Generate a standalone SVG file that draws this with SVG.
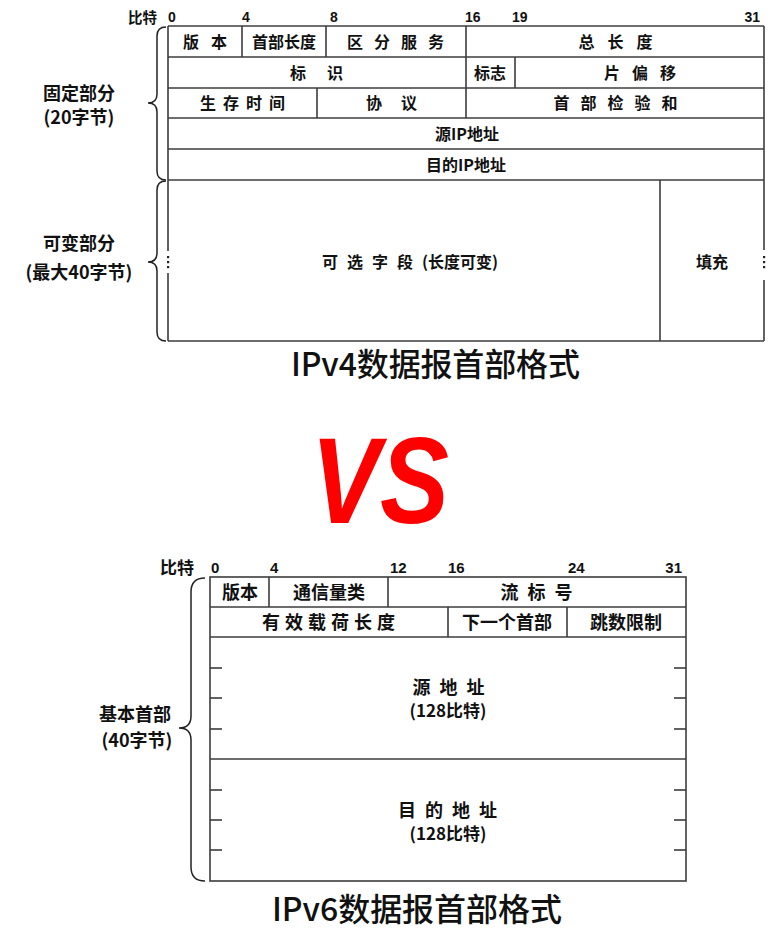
<svg xmlns="http://www.w3.org/2000/svg" width="779" height="952" viewBox="0 0 779 952">
<style>
.ln{stroke:#3c3c3c;stroke-width:1.6;fill:none}
.br{stroke:#222;stroke-width:1.5;fill:none}
.c{font-family:"Noto Sans CJK SC","Noto Sans CJK JP",sans-serif;font-weight:bold;font-size:16px;fill:#111;text-anchor:middle}
.c6{font-family:"Noto Sans CJK SC","Noto Sans CJK JP",sans-serif;font-weight:bold;font-size:18px;fill:#111;text-anchor:middle}
.lb{font-family:"Noto Sans CJK SC","Noto Sans CJK JP",sans-serif;font-weight:bold;font-size:18px;fill:#111;text-anchor:middle}
.n{font-family:"Liberation Sans",Arial,sans-serif;font-weight:bold;font-size:14px;fill:#111}
.n6{font-family:"Liberation Sans",Arial,sans-serif;font-weight:bold;font-size:15px;fill:#111}
.t{font-family:"Noto Sans CJK SC","Noto Sans CJK JP",sans-serif;font-weight:500;font-size:32px;fill:#111}
.dot{fill:#222}
</style>
<rect width="779" height="952" fill="#fff"/>

<!-- IPv4 grid -->
<g id="ipv4-grid">
<line class="ln" x1="168" y1="26" x2="764" y2="26"/>
<line class="ln" x1="168" y1="341" x2="764" y2="341"/>
<line class="ln" x1="168" y1="26" x2="168" y2="251"/>
<line class="ln" x1="168" y1="273" x2="168" y2="341"/>
<line class="ln" x1="764" y1="26" x2="764" y2="250"/>
<line class="ln" x1="764" y1="280" x2="764" y2="341"/>
<line class="ln" x1="168" y1="57" x2="764" y2="57"/>
<line class="ln" x1="168" y1="88" x2="764" y2="88"/>
<line class="ln" x1="168" y1="118" x2="764" y2="118"/>
<line class="ln" x1="168" y1="149" x2="764" y2="149"/>
<line class="ln" x1="168" y1="180" x2="764" y2="180"/>
<line class="ln" x1="242" y1="26" x2="242" y2="57"/>
<line class="ln" x1="326" y1="26" x2="326" y2="57"/>
<line class="ln" x1="466" y1="26" x2="466" y2="118"/>
<line class="ln" x1="515" y1="57" x2="515" y2="88"/>
<line class="ln" x1="317" y1="88" x2="317" y2="118"/>
<line class="ln" x1="660" y1="180" x2="660" y2="341"/>
<rect class="dot" x="167" y="256" width="2.2" height="2.2"/>
<rect class="dot" x="167" y="261" width="2.2" height="2.2"/>
<rect class="dot" x="167" y="266" width="2.2" height="2.2"/>
<rect class="dot" x="763" y="256" width="2.2" height="2.2"/>
<rect class="dot" x="763" y="261" width="2.2" height="2.2"/>
<rect class="dot" x="763" y="266" width="2.2" height="2.2"/>
</g>

<g id="ipv4-bits">
<text class="n" x="128" y="23" style="font-family:'Noto Sans CJK SC',sans-serif;font-size:14.5px">比特</text>
<text class="n" x="168" y="22">0</text>
<text class="n" x="242" y="22">4</text>
<text class="n" x="330" y="22">8</text>
<text class="n" x="465" y="22">16</text>
<text class="n" x="512" y="22">19</text>
<text class="n" x="760" y="22" text-anchor="end">31</text>
</g>

<g id="v4-version"><text class="c" x="211" y="48" letter-spacing="12">版本</text></g>
<g id="v4-ihl"><text class="c" x="284" y="48">首部长度</text></g>
<g id="v4-ds"><text class="c" x="401" y="48" letter-spacing="11">区分服务</text></g>
<g id="v4-totlen"><text class="c" x="622" y="48" letter-spacing="13">总长度</text></g>
<g id="v4-id"><text class="c" x="327" y="79" letter-spacing="21">标识</text></g>
<g id="v4-flags"><text class="c" x="490" y="79">标志</text></g>
<g id="v4-frag"><text class="c" x="646" y="79" letter-spacing="12">片偏移</text></g>
<g id="v4-ttl"><text class="c" x="246" y="109" letter-spacing="7">生存时间</text></g>
<g id="v4-proto"><text class="c" x="401" y="109" letter-spacing="19">协议</text></g>
<g id="v4-csum"><text class="c" x="621" y="109" letter-spacing="11">首部检验和</text></g>
<g id="v4-src"><text class="c" x="467" y="140">源IP地址</text></g>
<g id="v4-dst"><text class="c" x="466" y="171">目的IP地址</text></g>
<g id="v4-opt"><text class="c" x="410" y="268"><tspan letter-spacing="9">可选字段</tspan><tspan>(长度可变)</tspan></text></g>
<g id="v4-pad"><text class="c" x="712" y="268">填充</text></g>

<g id="v4-fixed-label">
<text class="lb" x="79" y="100">固定部分</text>
<text class="lb" x="79" y="124">(20字节)</text>
</g>
<g id="v4-var-label">
<text class="lb" x="79" y="250">可变部分</text>
<text class="lb" x="79" y="279">(最大40字节)</text>
</g>

<g id="connectors">
<path class="br" d="M166,27 Q157,27 157,36 L157,94 Q157,103 148,103 Q157,103 157,112 L157,171 Q157,180 166,180"/>
<path class="br" d="M166,181 Q157,181 157,190 L157,253 Q157,262 148,262 Q157,262 157,271 L157,332 Q157,341 166,341"/>
<path class="br" d="M205,578 Q191,578 191,592 L191,716 Q191,728 179,728 Q191,728 191,740 L191,867 Q191,881 205,881"/>
</g>

<g id="v4-title"><text class="t" x="291" y="376" textLength="289" lengthAdjust="spacing">IPv4数据报首部格式</text></g>

<g id="vs">
<text x="380" y="523" text-anchor="middle" textLength="138" lengthAdjust="spacingAndGlyphs" style="font-family:'Liberation Sans',Arial,sans-serif;font-weight:bold;font-style:italic;font-size:123px;fill:#ff0000">VS</text>
</g>

<!-- IPv6 grid -->
<g id="ipv6-grid">
<rect class="ln" x="210" y="577" width="476" height="304"/>
<line class="ln" x1="210" y1="607" x2="686" y2="607"/>
<line class="ln" x1="210" y1="637" x2="686" y2="637"/>
<line class="ln" x1="210" y1="759" x2="686" y2="759"/>
<line class="ln" x1="269" y1="577" x2="269" y2="607"/>
<line class="ln" x1="388" y1="577" x2="388" y2="607"/>
<line class="ln" x1="448" y1="607" x2="448" y2="637"/>
<line class="ln" x1="567" y1="607" x2="567" y2="637"/>
<line class="ln" x1="210" y1="668" x2="222" y2="668"/>
<line class="ln" x1="210" y1="698" x2="222" y2="698"/>
<line class="ln" x1="210" y1="729" x2="222" y2="729"/>
<line class="ln" x1="210" y1="790" x2="222" y2="790"/>
<line class="ln" x1="210" y1="820" x2="222" y2="820"/>
<line class="ln" x1="210" y1="850" x2="222" y2="850"/>
<line class="ln" x1="674" y1="668" x2="686" y2="668"/>
<line class="ln" x1="674" y1="698" x2="686" y2="698"/>
<line class="ln" x1="674" y1="729" x2="686" y2="729"/>
<line class="ln" x1="674" y1="790" x2="686" y2="790"/>
<line class="ln" x1="674" y1="820" x2="686" y2="820"/>
<line class="ln" x1="674" y1="850" x2="686" y2="850"/>
</g>

<g id="ipv6-bits">
<text class="n6" x="160" y="574" style="font-family:'Noto Sans CJK SC',sans-serif;font-size:17px">比特</text>
<text class="n6" x="211" y="573">0</text>
<text class="n6" x="270" y="573">4</text>
<text class="n6" x="390" y="573">12</text>
<text class="n6" x="448" y="573">16</text>
<text class="n6" x="568" y="573">24</text>
<text class="n6" x="682" y="573" text-anchor="end">31</text>
</g>

<g id="v6-version"><text class="c6" x="240" y="599">版本</text></g>
<g id="v6-tc"><text class="c6" x="329" y="599">通信量类</text></g>
<g id="v6-flow"><text class="c6" x="541" y="599" letter-spacing="9">流标号</text></g>
<g id="v6-plen"><text class="c6" x="331" y="629" letter-spacing="5">有效载荷长度</text></g>
<g id="v6-next"><text class="c6" x="507" y="629">下一个首部</text></g>
<g id="v6-hop"><text class="c6" x="626" y="629">跳数限制</text></g>
<g id="v6-src">
<text class="c6" x="453" y="694" letter-spacing="9">源地址</text>
<text class="c6" x="448" y="717" style="font-size:17px">(128比特)</text>
</g>
<g id="v6-dst">
<text class="c6" x="452" y="817" letter-spacing="9">目的地址</text>
<text class="c6" x="448" y="840" style="font-size:17px">(128比特)</text>
</g>

<g id="v6-label">
<text class="lb" x="135" y="721">基本首部</text>
<text class="lb" x="137" y="747">(40字节)</text>
</g>

<g id="v6-title"><text class="t" x="272" y="921" textLength="290" lengthAdjust="spacing">IPv6数据报首部格式</text></g>
</svg>
